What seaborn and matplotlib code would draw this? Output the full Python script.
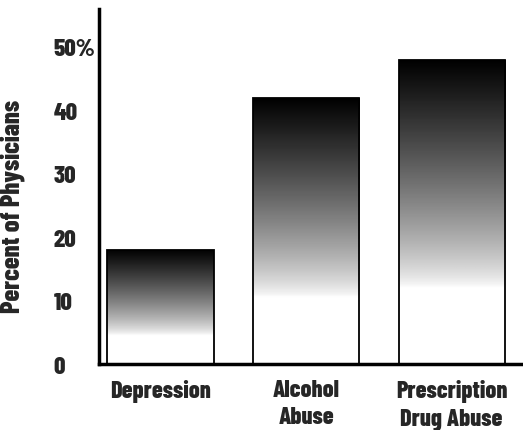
import numpy as np
import pandas as pd
import matplotlib
matplotlib.use("Agg")
import matplotlib.pyplot as plt
from matplotlib.transforms import ScaledTranslation
import seaborn as sns

# --- DATA ---
categories = ["Depression", "Alcohol\nAbuse", "Prescription\nDrug Abuse"]
percents = [18, 42, 48]
tick_values = [0, 10, 20, 30, 40, 50]
tick_labels = ["0", "10", "20", "30", "40", "50%"]

sns.set_style("white")
plt.rcParams['font.family'] = ['Barlow Condensed', 'Roboto Condensed', 'DejaVu Sans']
plt.rcParams['font.weight'] = 'bold'

fig = plt.figure(figsize=(5.23, 4.31), dpi=100)
ax = fig.add_axes([0.19, 0.153, 0.81, 0.824])

df = pd.DataFrame({'cat': categories, 'pct': percents})
sns.barplot(data=df, x='cat', y='pct', ax=ax, width=0.73,
            facecolor='none', edgecolor='black', linewidth=1.3)

# gradient fill: dark at top fading to white near the bottom
grad = np.linspace(0, 1, 256).reshape(-1, 1)
grad = np.clip((grad - 0.25) / 0.75, 0, 1) ** 0.75
for p in ax.patches:
    x0, y0 = p.get_x(), p.get_y()
    w, h = p.get_width(), p.get_height()
    im = ax.imshow(grad, extent=[x0, x0 + w, y0, y0 + h], origin='lower',
                   aspect='auto', cmap='gray_r', vmin=0, vmax=1.0, zorder=1)
    im.set_clip_path(p)
    p.set_zorder(2)

ax.set_xlim(-0.42, 2.49)
ax.set_ylim(0, 56)
ax.set_yticks(tick_values)
ax.set_yticklabels(tick_labels, fontsize=18, fontweight=800, ha='left')
ax.tick_params(axis='y', length=0, pad=0)
shift = ScaledTranslation(-0.46, 0, fig.dpi_scale_trans)
for lbl in ax.get_yticklabels():
    lbl.set_transform(lbl.get_transform() + shift)

ax.tick_params(axis='x', length=0, labelsize=17.5, pad=11)
for lbl in ax.get_xticklabels():
    lbl.set_fontweight(800)
    lbl.set_linespacing(1.3)
ax.set_xlabel('')
ax.set_ylabel('Percent of Physicians', fontsize=19, fontweight=800)
ax.yaxis.set_label_coords(-0.175, 0.448)

sns.despine(ax=ax, right=True, top=True)
ax.spines['left'].set_linewidth(2.5)
ax.spines['bottom'].set_linewidth(2.5)
ax.spines['left'].set_color('black')
ax.spines['bottom'].set_color('black')

fig.savefig('out.png', dpi=100)
